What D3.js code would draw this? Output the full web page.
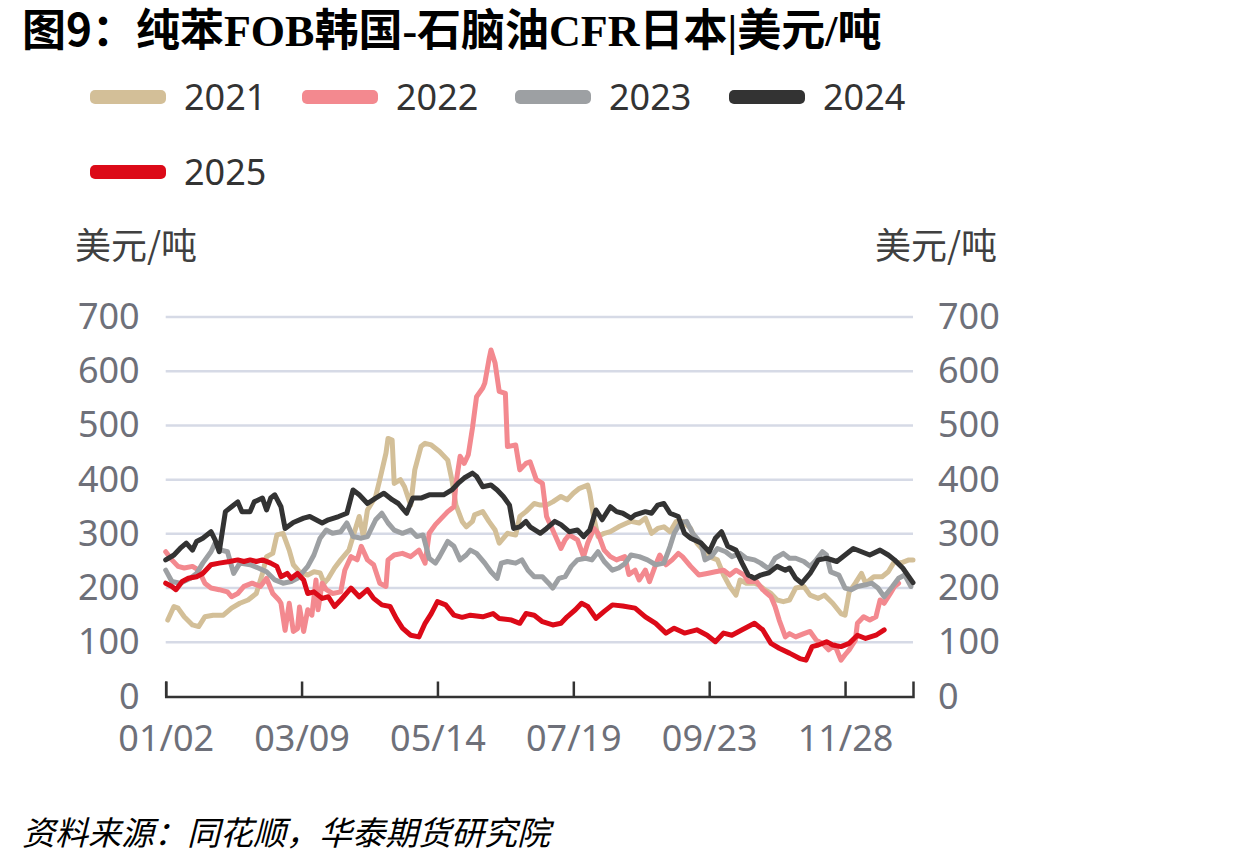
<!DOCTYPE html>
<html>
<head>
<meta charset="utf-8">
<script src="https://cdn.jsdelivr.net/npm/d3@7/dist/d3.min.js"></script>
<style>
  body { margin: 0; background: #fff; }
  svg { display: block; }
  text { font-family: "Noto Sans", "Noto Sans CJK SC", sans-serif; }
</style>
</head>
<body>
<div id="chart"></div>
<script>
// 纯苯FOB韩国-石脑油CFR日本 价差, 按年份叠加 (x = 距01/02的天数)
const years = ["2021", "2022", "2023", "2024", "2025"];
const colors = ["#d3bf98", "#f3898f", "#9da0a3", "#333333", "#dc0a18"];

const xTickDays = [0, 66, 132, 198, 264, 330];
const xTickLabels = ["01/02", "03/09", "05/14", "07/19", "09/23", "11/28"];
const yTicks = [0, 100, 200, 300, 400, 500, 600, 700];

const s2021 = [[1,141],[4,166],[6,163],[9,147],[13,132],[16,129],[19,147],[23,150],[28,150],[32,163],[36,172],[40,178],[44,190],[47,227],[49,258],[52,264],[54,298],[57,301],[60,270],[62,243],[65,230],[69,224],[72,230],[75,228],[77,209],[79,218],[82,237],[85,252],[89,270],[91,295],[94,332],[96,295],[98,344],[102,369],[104,400],[107,449],[108,476],[110,473],[111,393],[114,400],[116,387],[119,353],[121,418],[124,461],[126,467],[129,464],[133,452],[137,436],[139,400],[141,353],[144,323],[146,313],[149,323],[150,335],[154,341],[157,323],[160,307],[162,283],[166,301],[170,298],[172,332],[175,341],[179,356],[182,353],[185,353],[188,359],[192,369],[195,363],[198,375],[201,384],[205,390],[206,375],[208,329],[210,295],[213,301],[216,304],[220,313],[224,320],[226,323],[230,320],[233,329],[236,301],[239,310],[242,313],[245,304],[248,323],[251,323],[255,310],[258,283],[261,270],[264,258],[268,252],[271,224],[274,203],[277,187],[279,215],[282,209],[286,209],[288,206],[291,197],[294,190],[297,178],[300,175],[303,178],[306,200],[310,203],[313,187],[317,181],[320,187],[324,172],[328,153],[330,150],[332,193],[335,209],[338,227],[340,209],[344,221],[348,221],[351,230],[354,249],[357,246],[361,252],[363,252]];

const s2022 = [[0,267],[3,252],[6,240],[9,237],[13,240],[16,233],[19,209],[22,200],[26,197],[30,193],[32,184],[35,190],[38,203],[42,209],[46,203],[49,218],[52,190],[55,178],[56,172],[58,122],[60,172],[62,120],[64,125],[65,165],[67,120],[69,160],[71,150],[73,215],[74,160],[76,209],[78,197],[81,190],[85,193],[87,233],[90,258],[93,252],[95,277],[98,252],[101,243],[104,209],[107,203],[108,252],[111,261],[115,264],[119,258],[123,270],[126,246],[128,301],[131,317],[134,329],[137,341],[140,350],[141,393],[143,443],[145,430],[147,446],[149,495],[151,553],[154,569],[155,578],[157,621],[158,639],[160,615],[162,563],[165,559],[166,461],[170,464],[172,418],[175,430],[177,433],[180,400],[183,393],[185,332],[188,307],[192,273],[194,289],[196,298],[200,289],[203,258],[205,283],[208,310],[210,301],[213,270],[216,258],[219,252],[223,258],[225,225],[228,233],[230,215],[233,233],[235,212],[238,243],[240,261],[243,243],[246,252],[249,264],[251,258],[255,240],[259,224],[263,227],[267,230],[271,233],[274,224],[277,233],[281,224],[283,212],[287,212],[290,197],[294,184],[296,166],[298,141],[301,110],[303,116],[306,110],[310,116],[313,120],[316,104],[319,98],[322,86],[325,95],[328,67],[330,77],[332,86],[335,104],[336,135],[339,147],[342,141],[345,147],[347,178],[349,172],[352,190],[354,203],[356,209]];

const s2023 = [[0,233],[3,212],[7,209],[12,218],[15,227],[18,246],[22,267],[24,283],[27,270],[30,267],[33,227],[36,246],[41,243],[45,237],[49,230],[53,215],[57,209],[61,212],[64,218],[69,240],[72,261],[75,292],[78,307],[81,301],[85,304],[88,320],[91,295],[95,292],[98,295],[102,326],[105,338],[108,320],[111,307],[115,301],[119,307],[122,295],[125,298],[128,255],[131,246],[133,258],[137,286],[140,277],[143,252],[146,261],[148,270],[151,264],[155,246],[158,230],[161,218],[163,246],[166,249],[170,246],[173,252],[176,233],[179,221],[183,221],[186,209],[188,200],[191,218],[194,221],[197,240],[200,252],[204,255],[207,252],[210,267],[213,249],[217,233],[220,237],[223,245],[226,261],[230,258],[234,252],[238,243],[242,246],[245,277],[247,301],[250,320],[253,323],[256,301],[260,283],[262,252],[265,258],[268,273],[272,267],[275,258],[279,264],[282,255],[286,252],[289,246],[293,235],[296,255],[300,264],[303,255],[306,255],[310,249],[313,240],[316,252],[319,267],[321,261],[323,230],[327,224],[330,200],[333,197],[336,203],[340,206],[343,209],[346,200],[349,184],[353,203],[356,218],[359,224],[362,203]];

const s2024 = [[0,252],[4,261],[7,273],[10,283],[13,270],[15,286],[18,292],[22,304],[24,289],[26,267],[29,341],[32,350],[35,359],[37,341],[41,341],[43,359],[47,366],[49,344],[51,366],[53,372],[56,350],[58,310],[62,321],[67,329],[70,332],[73,326],[76,320],[79,326],[84,332],[88,338],[91,381],[94,372],[98,356],[102,366],[106,375],[110,363],[113,356],[117,338],[120,366],[124,366],[128,372],[135,372],[139,381],[142,393],[145,403],[149,412],[151,406],[154,387],[158,390],[161,381],[164,369],[167,353],[169,310],[172,313],[175,323],[177,313],[182,301],[185,310],[189,323],[192,317],[196,304],[200,307],[203,295],[206,307],[209,344],[212,326],[216,350],[219,341],[222,338],[226,329],[228,335],[233,341],[236,338],[239,353],[242,356],[245,338],[249,332],[252,301],[255,292],[260,283],[264,267],[267,292],[270,304],[273,277],[277,270],[280,246],[283,224],[286,218],[289,224],[293,228],[297,240],[301,233],[303,237],[306,218],[309,209],[313,227],[317,252],[321,255],[326,249],[330,261],[334,273],[338,267],[342,261],[347,270],[351,261],[354,252],[358,237],[363,210]];

const s2025 = [[0,209],[3,203],[5,197],[8,212],[11,218],[15,221],[18,227],[22,243],[26,246],[31,249],[35,252],[38,249],[41,252],[44,249],[47,252],[51,246],[54,240],[56,221],[59,227],[61,218],[64,227],[67,215],[69,190],[72,193],[76,181],[79,184],[82,166],[85,178],[90,200],[94,184],[98,197],[101,181],[105,169],[109,166],[112,144],[115,126],[119,113],[123,110],[126,135],[129,153],[132,175],[136,169],[140,150],[144,146],[148,150],[154,147],[159,153],[162,144],[168,141],[172,135],[175,153],[179,150],[183,138],[188,132],[192,135],[195,147],[199,160],[202,172],[205,166],[209,144],[213,157],[217,169],[222,167],[228,163],[233,147],[238,135],[243,117],[247,126],[252,117],[258,123],[263,113],[267,101],[271,117],[275,113],[280,123],[286,135],[290,123],[294,98],[298,89],[303,80],[308,70],[311,67],[314,92],[317,95],[321,101],[324,95],[328,92],[332,98],[336,113],[340,107],[345,113],[349,123]];

const seriesData = [s2021, s2022, s2023, s2024, s2025];

const W = 1240, H = 866;
const svg = d3.select("#chart").append("svg")
    .attr("width", W)
    .attr("height", H);

// scales
const x = d3.scaleLinear().domain([0, 363]).range([165.7, 913]);
const y = d3.scaleLinear().domain([0, 700]).range([696.5, 317]);

// title: 中文用黑体, FOB/CFR 等用衬线粗体, 逐段排开
const titleParts = [
    ["图9：纯苯", false], ["FOB", true], ["韩国", false], ["-", true], ["石脑油", false],
    ["CFR", true], ["日本", false], ["|", true], ["美元", false], ["/", true], ["吨", false]
];
let titleX = 22;
titleParts.forEach(function (p) {
    const t = svg.append("text")
        .attr("x", titleX).attr("y", 46)
        .attr("font-size", 44).attr("font-weight", "bold").attr("fill", "#000")
        .style("font-family", p[1] ? '"Liberation Serif", serif' : '"Noto Sans CJK SC", sans-serif')
        .text(p[0]);
    titleX += t.node().getComputedTextLength();
});

// legend
const legendPos = [[90, 97], [302, 97], [515, 97], [729, 97], [90, 172]];
const legend = svg.append("g");
years.forEach(function (yr, i) {
    const g = legend.append("g").attr("transform", "translate(" + legendPos[i][0] + "," + legendPos[i][1] + ")");
    g.append("rect").attr("x", 0).attr("y", -7).attr("width", 76).attr("height", 14)
        .attr("rx", 5).attr("fill", colors[i]);
    g.append("text").attr("x", 94).attr("y", 0).attr("dy", "0.35em")
        .attr("font-size", 36).attr("fill", "#333").text(yr);
});

// unit labels
svg.append("text").attr("x", 75).attr("y", 259).attr("font-size", 36).attr("fill", "#404040")
    .style("font-family", '"Noto Sans CJK SC", sans-serif').text("美元/吨");
svg.append("text").attr("x", 875).attr("y", 259).attr("font-size", 36).attr("fill", "#404040")
    .style("font-family", '"Noto Sans CJK SC", sans-serif').text("美元/吨");

// grid lines
svg.append("g").selectAll("line")
    .data(yTicks.filter(function (d) { return d > 0; }))
    .enter().append("line")
    .attr("x1", x(0)).attr("x2", x(363))
    .attr("y1", function (d) { return y(d); })
    .attr("y2", function (d) { return y(d); })
    .attr("stroke", "#d6dae6").attr("stroke-width", 2.5);

// left and right y axes (labels only)
const yLeft = svg.append("g").attr("transform", "translate(" + x(0) + ",0)")
    .call(d3.axisLeft(y).tickValues(yTicks).tickSize(0).tickPadding(26));
const yRight = svg.append("g").attr("transform", "translate(" + x(363) + ",0)")
    .call(d3.axisRight(y).tickValues(yTicks).tickSize(0).tickPadding(25));
[yLeft, yRight].forEach(function (g) {
    g.select(".domain").remove();
    g.selectAll("text").attr("font-size", 36).attr("fill", "#6e7079")
        .style("font-family", '"Noto Sans", sans-serif');
});

// series lines
const line = d3.line()
    .x(function (d) { return x(d[0]); })
    .y(function (d) { return y(d[1]); });

svg.append("g").selectAll("path")
    .data(seriesData)
    .enter().append("path")
    .attr("d", line)
    .attr("fill", "none")
    .attr("stroke", function (d, i) { return colors[i]; })
    .attr("stroke-width", 5)
    .attr("stroke-linejoin", "round")
    .attr("stroke-linecap", "round");

// x axis
const xAxis = svg.append("g").attr("transform", "translate(0," + y(0) + ")")
    .call(d3.axisBottom(x)
        .tickValues(xTickDays)
        .tickFormat(function (d, i) { return xTickLabels[i]; })
        .tickSizeInner(-15)
        .tickSizeOuter(-15)
        .tickPadding(29));
xAxis.select(".domain").attr("stroke", "#333").attr("stroke-width", 2.5);
xAxis.selectAll(".tick line").attr("stroke", "#333").attr("stroke-width", 2.5);
xAxis.selectAll("text").attr("font-size", 36).attr("fill", "#6e7079")
    .style("font-family", '"Noto Sans", sans-serif');

// source note
svg.append("text").attr("x", 22).attr("y", 845)
    .attr("font-size", 33).attr("font-style", "italic").attr("fill", "#000")
    .style("font-family", '"Noto Sans CJK SC", sans-serif')
    .text("资料来源：同花顺，华泰期货研究院");
</script>
</body>
</html>
